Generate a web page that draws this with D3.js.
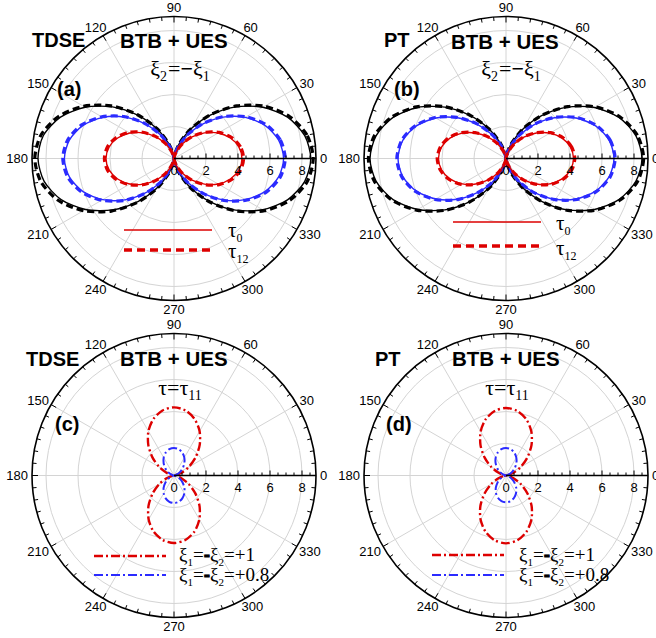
<!DOCTYPE html>
<html>
<head>
<meta charset="utf-8">
<script src="https://cdn.jsdelivr.net/npm/d3@7"></script>
<style>
  body { margin: 0; background: #fff; }
  svg { display: block; }
</style>
</head>
<body>
<svg id="chart" width="656" height="638"></svg>
<script>
// Polar angles (degrees) at which every curve is sampled
const angles = d3.range(0, 360, 10);
const angleLabels = [0, 30, 60, 90, 120, 150, 180, 210, 240, 270, 300, 330];
const radialTicks = [0, 2, 4, 6, 8];
const gridRings = [2, 4, 6, 8];
const radialMax = 8.875;

// (a) TDSE, xi2 = -xi1
const aBlackTau0  = [8.55,8.29,7.55,6.41,5.02,3.53,2.14,1.00,0.26,0,0.26,1.00,2.14,3.53,5.02,6.41,7.55,8.29,8.50,8.24,7.51,6.38,4.99,3.51,2.13,0.99,0.26,0,0.26,1.00,2.14,3.53,5.02,6.41,7.55,8.29];
const aBlackTau12 = [8.70,8.44,7.68,6.53,5.11,3.59,2.18,1.02,0.26,0,0.26,1.02,2.18,3.59,5.11,6.53,7.68,8.44,8.70,8.44,7.68,6.53,5.11,3.59,2.18,1.02,0.26,0,0.26,1.02,2.18,3.59,5.11,6.53,7.68,8.44];
const aBlueTau0   = [6.85,6.64,6.05,5.14,4.02,2.83,1.71,0.80,0.21,0,0.21,0.80,1.71,2.83,4.02,5.14,6.05,6.64,6.85,6.64,6.05,5.14,4.02,2.83,1.71,0.80,0.21,0,0.21,0.80,1.71,2.83,4.02,5.14,6.05,6.64];
const aBlueTau12  = [6.95,6.74,6.14,5.21,4.08,2.87,1.74,0.81,0.21,0,0.21,0.81,1.74,2.87,4.08,5.21,6.14,6.74,6.95,6.74,6.14,5.21,4.08,2.87,1.74,0.81,0.21,0,0.21,0.81,1.74,2.87,4.08,5.21,6.14,6.74];
const aRedTau0    = [4.25,4.12,3.75,3.19,2.49,1.76,1.06,0.50,0.13,0,0.13,0.50,1.06,1.76,2.49,3.19,3.75,4.12,4.25,4.12,3.75,3.19,2.49,1.76,1.06,0.50,0.13,0,0.13,0.50,1.06,1.76,2.49,3.19,3.75,4.12];
const aRedTau12   = [4.35,4.22,3.84,3.26,2.55,1.80,1.09,0.51,0.13,0,0.13,0.51,1.09,1.80,2.55,3.26,3.84,4.22,4.35,4.22,3.84,3.26,2.55,1.80,1.09,0.51,0.13,0,0.13,0.51,1.09,1.80,2.55,3.26,3.84,4.22];

// (b) PT, xi2 = -xi1
const bBlackTau0  = [8.50,8.24,7.51,6.38,4.99,3.51,2.13,0.99,0.26,0,0.26,0.99,2.13,3.51,4.99,6.38,7.51,8.24,8.50,8.24,7.51,6.38,4.99,3.51,2.13,0.99,0.26,0,0.26,0.99,2.13,3.51,4.99,6.38,7.51,8.24];
const bBlackTau12 = [8.60,8.34,7.59,6.45,5.05,3.55,2.15,1.01,0.26,0,0.26,1.01,2.15,3.55,5.05,6.45,7.59,8.34,8.60,8.34,7.59,6.45,5.05,3.55,2.15,1.01,0.26,0,0.26,1.01,2.15,3.55,5.05,6.45,7.59,8.34];
const bBlueTau0   = [6.75,6.55,5.96,5.06,3.96,2.79,1.69,0.79,0.20,0,0.20,0.79,1.69,2.79,3.96,5.06,5.96,6.55,6.75,6.55,5.96,5.06,3.96,2.79,1.69,0.79,0.20,0,0.20,0.79,1.69,2.79,3.96,5.06,5.96,6.55];
const bBlueTau12  = [6.82,6.61,6.02,5.12,4.00,2.82,1.71,0.80,0.21,0,0.21,0.80,1.71,2.82,4.00,5.12,6.02,6.61,6.82,6.61,6.02,5.12,4.00,2.82,1.71,0.80,0.21,0,0.21,0.80,1.71,2.82,4.00,5.12,6.02,6.61];
const bRedTau0    = [4.22,4.09,3.73,3.17,2.48,1.74,1.06,0.49,0.13,0,0.13,0.49,1.06,1.74,2.48,3.17,3.73,4.09,4.22,4.09,3.73,3.17,2.48,1.74,1.06,0.49,0.13,0,0.13,0.49,1.06,1.74,2.48,3.17,3.73,4.09];
const bRedTau12   = [4.30,4.17,3.80,3.23,2.52,1.78,1.08,0.50,0.13,0,0.13,0.50,1.08,1.78,2.52,3.23,3.80,4.17,4.30,4.17,3.80,3.23,2.52,1.78,1.08,0.50,0.13,0,0.13,0.50,1.08,1.78,2.52,3.23,3.80,4.17];

// (c) TDSE, tau = tau11
const cRedXi1   = [0,0.13,0.50,1.07,1.76,2.50,3.20,3.76,4.13,4.26,4.13,3.76,3.20,2.50,1.76,1.07,0.50,0.13,0,0.13,0.49,1.06,1.74,2.48,3.17,3.73,4.09,4.22,4.09,3.73,3.17,2.48,1.74,1.06,0.49,0.13];
const cBlueXi08 = [0,0.05,0.20,0.43,0.71,1.01,1.29,1.52,1.67,1.72,1.67,1.52,1.29,1.01,0.71,0.43,0.20,0.05,0,0.05,0.20,0.43,0.71,1.01,1.29,1.52,1.67,1.72,1.67,1.52,1.29,1.01,0.71,0.43,0.20,0.05];

// (d) PT, tau = tau11
const dRedXi1   = [0,0.13,0.49,1.06,1.74,2.48,3.17,3.73,4.09,4.22,4.09,3.73,3.17,2.48,1.74,1.06,0.49,0.13,0,0.13,0.50,1.06,1.75,2.49,3.18,3.74,4.11,4.24,4.11,3.74,3.18,2.49,1.75,1.06,0.50,0.13];
const dBlueXi08 = [0,0.05,0.20,0.43,0.71,1.01,1.29,1.52,1.67,1.72,1.67,1.52,1.29,1.01,0.71,0.43,0.20,0.05,0,0.05,0.20,0.42,0.69,0.99,1.26,1.48,1.63,1.68,1.63,1.48,1.26,0.99,0.69,0.42,0.20,0.05];

const RED = "#dd0000", BLUE = "#2b2bff", BLACK = "#000";
const SOLID = { width: 1.4, dash: null };
const DASHED = { width: 3.2, dash: "7,4" };
const DASHDOT_R = { width: 2.4, dash: "9,3,2,3" };
const DASHDOT_B = { width: 2.0, dash: "9,3,2,3" };

const panels = [
  { cx: 174, cy: 158.5, method: "TDSE", methodX: 32, methodY: 47, tag: "(a)", tagX: 57, tagY: 96, titleX: 120, titleY: 48,
    sub: "xi", subX: 180, subY: 76,
    series: [
      { v: aBlackTau0, c: BLACK, s: SOLID }, { v: aBlackTau12, c: BLACK, s: DASHED },
      { v: aBlueTau0, c: BLUE, s: SOLID },   { v: aBlueTau12, c: BLUE, s: DASHED },
      { v: aRedTau0, c: RED, s: SOLID },     { v: aRedTau12, c: RED, s: DASHED }],
    legend: { kind: "tau", x0: 124, x1: 212, y: [230, 250], tx: 228, ty: [237, 258] } },
  { cx: 506, cy: 158.5, method: "PT", methodX: 384, methodY: 47, tag: "(b)", tagX: 394, tagY: 96, titleX: 451, titleY: 49,
    sub: "xi", subX: 511, subY: 76,
    series: [
      { v: bBlackTau0, c: BLACK, s: SOLID }, { v: bBlackTau12, c: BLACK, s: DASHED },
      { v: bBlueTau0, c: BLUE, s: SOLID },   { v: bBlueTau12, c: BLUE, s: DASHED },
      { v: bRedTau0, c: RED, s: SOLID },     { v: bRedTau12, c: RED, s: DASHED }],
    legend: { kind: "tau", x0: 453, x1: 541, y: [222, 246], tx: 556, ty: [230, 255] } },
  { cx: 174, cy: 475.5, method: "TDSE", methodX: 26, methodY: 366, tag: "(c)", tagX: 55, tagY: 431, titleX: 120, titleY: 366,
    sub: "tau", subX: 180, subY: 395,
    series: [
      { v: cRedXi1, c: RED, s: DASHDOT_R }, { v: cBlueXi08, c: BLUE, s: DASHDOT_B }],
    legend: { kind: "xi", x0: 94, x1: 166, y: [556, 575], tx: 179, ty: [561, 581] } },
  { cx: 506, cy: 475.5, method: "PT", methodX: 375, methodY: 366, tag: "(d)", tagX: 386, tagY: 431, titleX: 452, titleY: 366,
    sub: "tau", subX: 507, subY: 395,
    series: [
      { v: dRedXi1, c: RED, s: DASHDOT_R }, { v: dBlueXi08, c: BLUE, s: DASHDOT_B }],
    legend: { kind: "xi", x0: 432, x1: 504, y: [555, 575], tx: 519, ty: [561, 581] } }
];

const svg = d3.select("#chart");
const OUTER = 142;
const r = d3.scaleLinear().domain([0, radialMax]).range([0, OUTER]);
const deg = d => d * Math.PI / 180;
const SANS = "'Liberation Sans', Arial, Helvetica, sans-serif";
const SERIF = "'Liberation Serif', 'Times New Roman', serif";

// math angle (ccw from +x) -> d3 radial angle (cw from 12 o'clock)
const radial = d3.lineRadial()
  .angle(d => Math.PI / 2 - deg(d[0]))
  .radius(d => r(d[1]))
  .curve(d3.curveCardinalClosed.tension(0.2));

// Appends runs of text; a run with a size becomes a lowered subscript
function subText(sel, parts) {
  let down = false;
  parts.forEach(([t, sub, style]) => {
    const ts = sel.append("tspan").text(t);
    if (sub) { ts.attr("font-size", sub).attr("dy", down ? 0 : 5); down = true; }
    else { ts.attr("dy", down ? -5 : 0); down = false; }
    if (style) Object.entries(style).forEach(([k, v]) => ts.attr(k, v));
  });
}

panels.forEach(p => {
  const g = svg.append("g").attr("transform", `translate(${p.cx},${p.cy})`);

  // grey grid rings and spokes
  g.selectAll(".ring").data(gridRings).join("circle")
    .attr("r", d => r(d)).attr("fill", "none").attr("stroke", "#d4d4d4").attr("stroke-width", 1);
  g.selectAll(".spoke").data(angleLabels.filter(a => a !== 0)).join("line")
    .attr("x1", 0).attr("y1", 0)
    .attr("x2", a => OUTER * Math.cos(deg(a))).attr("y2", a => -OUTER * Math.sin(deg(a)))
    .attr("stroke", "#d4d4d4").attr("stroke-width", 1);

  // outer frame and its angular ticks
  g.append("circle").attr("r", OUTER).attr("fill", "none").attr("stroke", "#000").attr("stroke-width", 1.6);
  g.selectAll(".atick").data(d3.range(0, 360, 5)).join("line")
    .attr("x1", a => OUTER * Math.cos(deg(a))).attr("y1", a => -OUTER * Math.sin(deg(a)))
    .attr("x2", a => (OUTER - (a % 30 === 0 ? 6 : 4)) * Math.cos(deg(a)))
    .attr("y2", a => -(OUTER - (a % 30 === 0 ? 6 : 4)) * Math.sin(deg(a)))
    .attr("stroke", "#000").attr("stroke-width", 1);

  // angle labels
  g.selectAll(".alab").data(angleLabels).join("text")
    .attr("font-family", SANS).attr("font-size", 13).attr("text-anchor", "middle")
    .attr("dominant-baseline", "central")
    .text(a => a)
    .each(function (a) {
      const w = this.getComputedTextLength();
      const R = 146, c = Math.cos(deg(a)), s = Math.sin(deg(a));
      d3.select(this).attr("x", R * c + (w / 2) * c).attr("y", -(R * s + 5 * s));
    });

  // curves
  p.series.forEach(se => {
    const pts = angles.map((a, i) => [a, se.v[i]]);
    g.append("path").attr("d", radial(pts))
      .attr("fill", "none").attr("stroke", se.c).attr("stroke-width", se.s.width)
      .attr("stroke-dasharray", se.s.dash);
  });

  // radial axis along 0 degrees
  g.append("line").attr("x1", 0).attr("y1", 0).attr("x2", OUTER).attr("y2", 0)
    .attr("stroke", "#000").attr("stroke-width", 1.6);
  g.selectAll(".rtick").data(d3.range(0.5, 8.9, 0.5)).join("line")
    .attr("x1", d => r(d)).attr("x2", d => r(d)).attr("y1", 0)
    .attr("y2", d => (d % 2 === 0 ? -5 : -3))
    .attr("stroke", "#000").attr("stroke-width", 1);
  g.selectAll(".rlab").data(radialTicks).join("text")
    .attr("x", d => r(d)).attr("y", 16).attr("text-anchor", "middle")
    .attr("font-family", SANS).attr("font-size", 13).text(d => d);

  // titles
  svg.append("text").attr("x", p.methodX).attr("y", p.methodY)
    .attr("font-family", SANS).attr("font-weight", "bold").attr("font-size", 20).text(p.method);
  svg.append("text").attr("x", p.titleX).attr("y", p.titleY)
    .attr("font-family", SANS).attr("font-weight", "bold").attr("font-size", 20.5).text("BTB + UES");
  svg.append("text").attr("x", p.tagX).attr("y", p.tagY)
    .attr("font-family", SANS).attr("font-weight", "bold").attr("font-size", 20).text(p.tag);

  const st = svg.append("text").attr("x", p.subX).attr("y", p.subY).attr("text-anchor", "middle")
    .attr("font-family", SERIF).attr("font-size", 22);
  if (p.sub === "xi") subText(st, [["ξ"], ["2", 14], ["=", null, { dx: 1 }], ["−", null, { "font-weight": "bold" }], ["ξ"], ["1", 14]]);
  else subText(st, [["τ=τ"], ["11", 14]]);

  // legend
  const L = p.legend;
  if (L.kind === "tau") {
    [SOLID, DASHED].forEach((s, i) => {
      svg.append("line").attr("x1", L.x0).attr("x2", L.x1).attr("y1", L.y[i]).attr("y2", L.y[i])
        .attr("stroke", RED).attr("stroke-width", i ? 3.5 : 1.4).attr("stroke-dasharray", i ? "8,5" : null);
    });
    const t0 = svg.append("text").attr("x", L.tx).attr("y", L.ty[0]).attr("font-family", SERIF).attr("font-size", 21);
    subText(t0, [["τ"], ["0", 12]]);
    const t1 = svg.append("text").attr("x", L.tx).attr("y", L.ty[1]).attr("font-family", SERIF).attr("font-size", 21);
    subText(t1, [["τ"], ["12", 12]]);
  } else {
    [[RED, DASHDOT_R, "+1"], [BLUE, DASHDOT_B, "+0.8"]].forEach(([col, s, val], i) => {
      svg.append("line").attr("x1", L.x0).attr("x2", L.x1).attr("y1", L.y[i]).attr("y2", L.y[i])
        .attr("stroke", col).attr("stroke-width", s.width).attr("stroke-dasharray", s.dash);
      const t = svg.append("text").attr("x", L.tx).attr("y", L.ty[i]).attr("font-family", SERIF).attr("font-size", 19);
      subText(t, [["ξ"], ["1", 11], ["="], ["-", null, { "font-family": SANS, "font-weight": "bold", stroke: "#000", "stroke-width": 0.8 }], ["ξ"], ["2", 11], ["=" + val]]);
    });
  }
});
</script>
</body>
</html>
